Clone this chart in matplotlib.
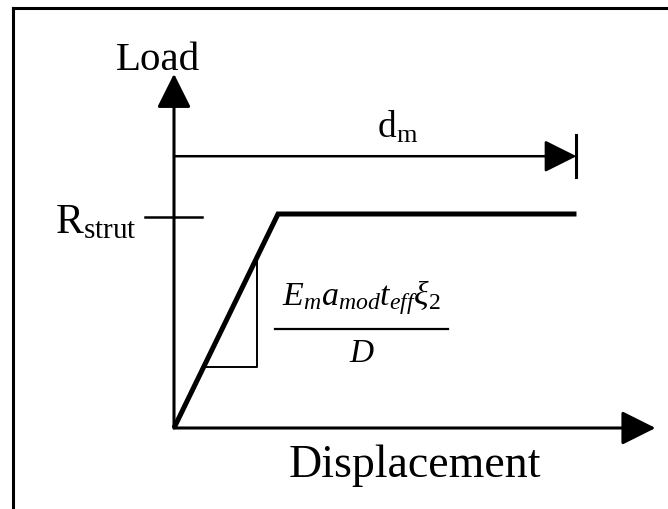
import matplotlib
matplotlib.use("Agg")
import matplotlib.pyplot as plt
from matplotlib.lines import Line2D
from matplotlib.patches import ArrowStyle

plt.rcParams['font.family'] = ['Liberation Serif', 'DejaVu Serif']
plt.rcParams['mathtext.fontset'] = 'custom'
plt.rcParams['mathtext.rm'] = 'Liberation Serif'
plt.rcParams['mathtext.it'] = 'Liberation Serif:italic'
plt.rcParams['mathtext.bf'] = 'Liberation Serif:bold'

# ---- data (schematic bilinear load-displacement curve) ----
disp = [0.0, 1.0, 3.87]          # displacement: origin, yield, d_m
load = [0.0, 1.0, 1.0]           # load: 0, R_strut, R_strut
r_strut = 1.0
d_m = 3.87
dm_arrow_y = 1.27
tri_lo = 0.285                   # slope triangle lower corner
tri_hi = 0.80                    # slope triangle upper corner
x_axis_end = 4.63
y_axis_end = 1.655

x_label = "Displacement"
y_label = "Load"
r_label = r"$\mathrm{R}_{\mathrm{strut}}$"
dm_label = r"$\mathrm{d}_{\mathrm{m}}$"
slope_num = r"$E_m a_{mod} t_{eff} \xi_2$"
slope_den = r"$D$"

# ---- figure ----
W, H = 668, 510
fig = plt.figure(figsize=(W / 100, H / 100), dpi=100)
ax = fig.add_axes([0, 0, 1, 1])
ax.axis('off')
ox, oy, sx, sy = 174, 429, 104, 214   # origin pixel and pixels per unit
ax.set_xlim(-ox / sx, (W - ox) / sx)
ax.set_ylim((oy - H) / sy, oy / sy)

# frame border (left and top only visible)
fig.add_artist(Line2D([13 / W, 13 / W], [0, 1 - 9 / H], transform=fig.transFigure,
                      color='black', lw=2.2, solid_capstyle='projecting'))
fig.add_artist(Line2D([13 / W, 1], [1 - 9 / H, 1 - 9 / H], transform=fig.transFigure,
                      color='black', lw=2.2, solid_capstyle='projecting'))

axis_style = ArrowStyle('-|>', head_length=21.0, head_width=10.5)
# y axis
ax.annotate('', xy=(0, y_axis_end), xytext=(0, 0),
            arrowprops=dict(arrowstyle=axis_style, mutation_scale=1, shrinkA=0, shrinkB=0,
                            lw=2.2, color='black'))
# x axis
ax.annotate('', xy=(x_axis_end, 0), xytext=(0, 0),
            arrowprops=dict(arrowstyle=axis_style, mutation_scale=1, shrinkA=0, shrinkB=0,
                            lw=2.2, color='black'))

# d_m dimension arrow
dm_style = ArrowStyle('-|>', head_length=20.0, head_width=10.0)
ax.annotate('', xy=(d_m, dm_arrow_y), xytext=(0, dm_arrow_y),
            arrowprops=dict(arrowstyle=dm_style, mutation_scale=1, shrinkA=0, shrinkB=0,
                            lw=1.8, color='black'))
ax.plot([d_m, d_m], [dm_arrow_y - 0.095, dm_arrow_y + 0.1], color='black', lw=2.2)
ax.text(1.95, 1.364, dm_label, fontsize=27, ha='left', va='baseline')

# load-displacement curve
ax.plot(disp, load, color='black', lw=3.6, solid_joinstyle='miter', solid_capstyle='butt')

# R_strut tick and label
ax.plot([-0.28, 0.27], [r_strut - 0.015, r_strut - 0.015], color='black', lw=1.8)
ax.text(-1.145, 0.915, r_label, fontsize=30, ha='left', va='baseline')

# slope triangle
ax.plot([tri_hi, tri_hi, tri_lo], [tri_hi, tri_lo, tri_lo], color='black', lw=1.4)

# slope formula
ax.text(1.80, 0.579, slope_num, fontsize=24.5, ha='center', va='baseline')
ax.plot([0.97, 2.63], [0.463, 0.463], color='black', lw=1.6)
ax.text(1.81, 0.313, slope_den, fontsize=24, ha='center', va='baseline')

# axis labels
ax.text(-0.15, 1.678, y_label, fontsize=29.5, ha='center', va='baseline')
ax.text(2.32, -0.224, x_label, fontsize=33, ha='center', va='baseline')

fig.savefig("out.png", dpi=100)
